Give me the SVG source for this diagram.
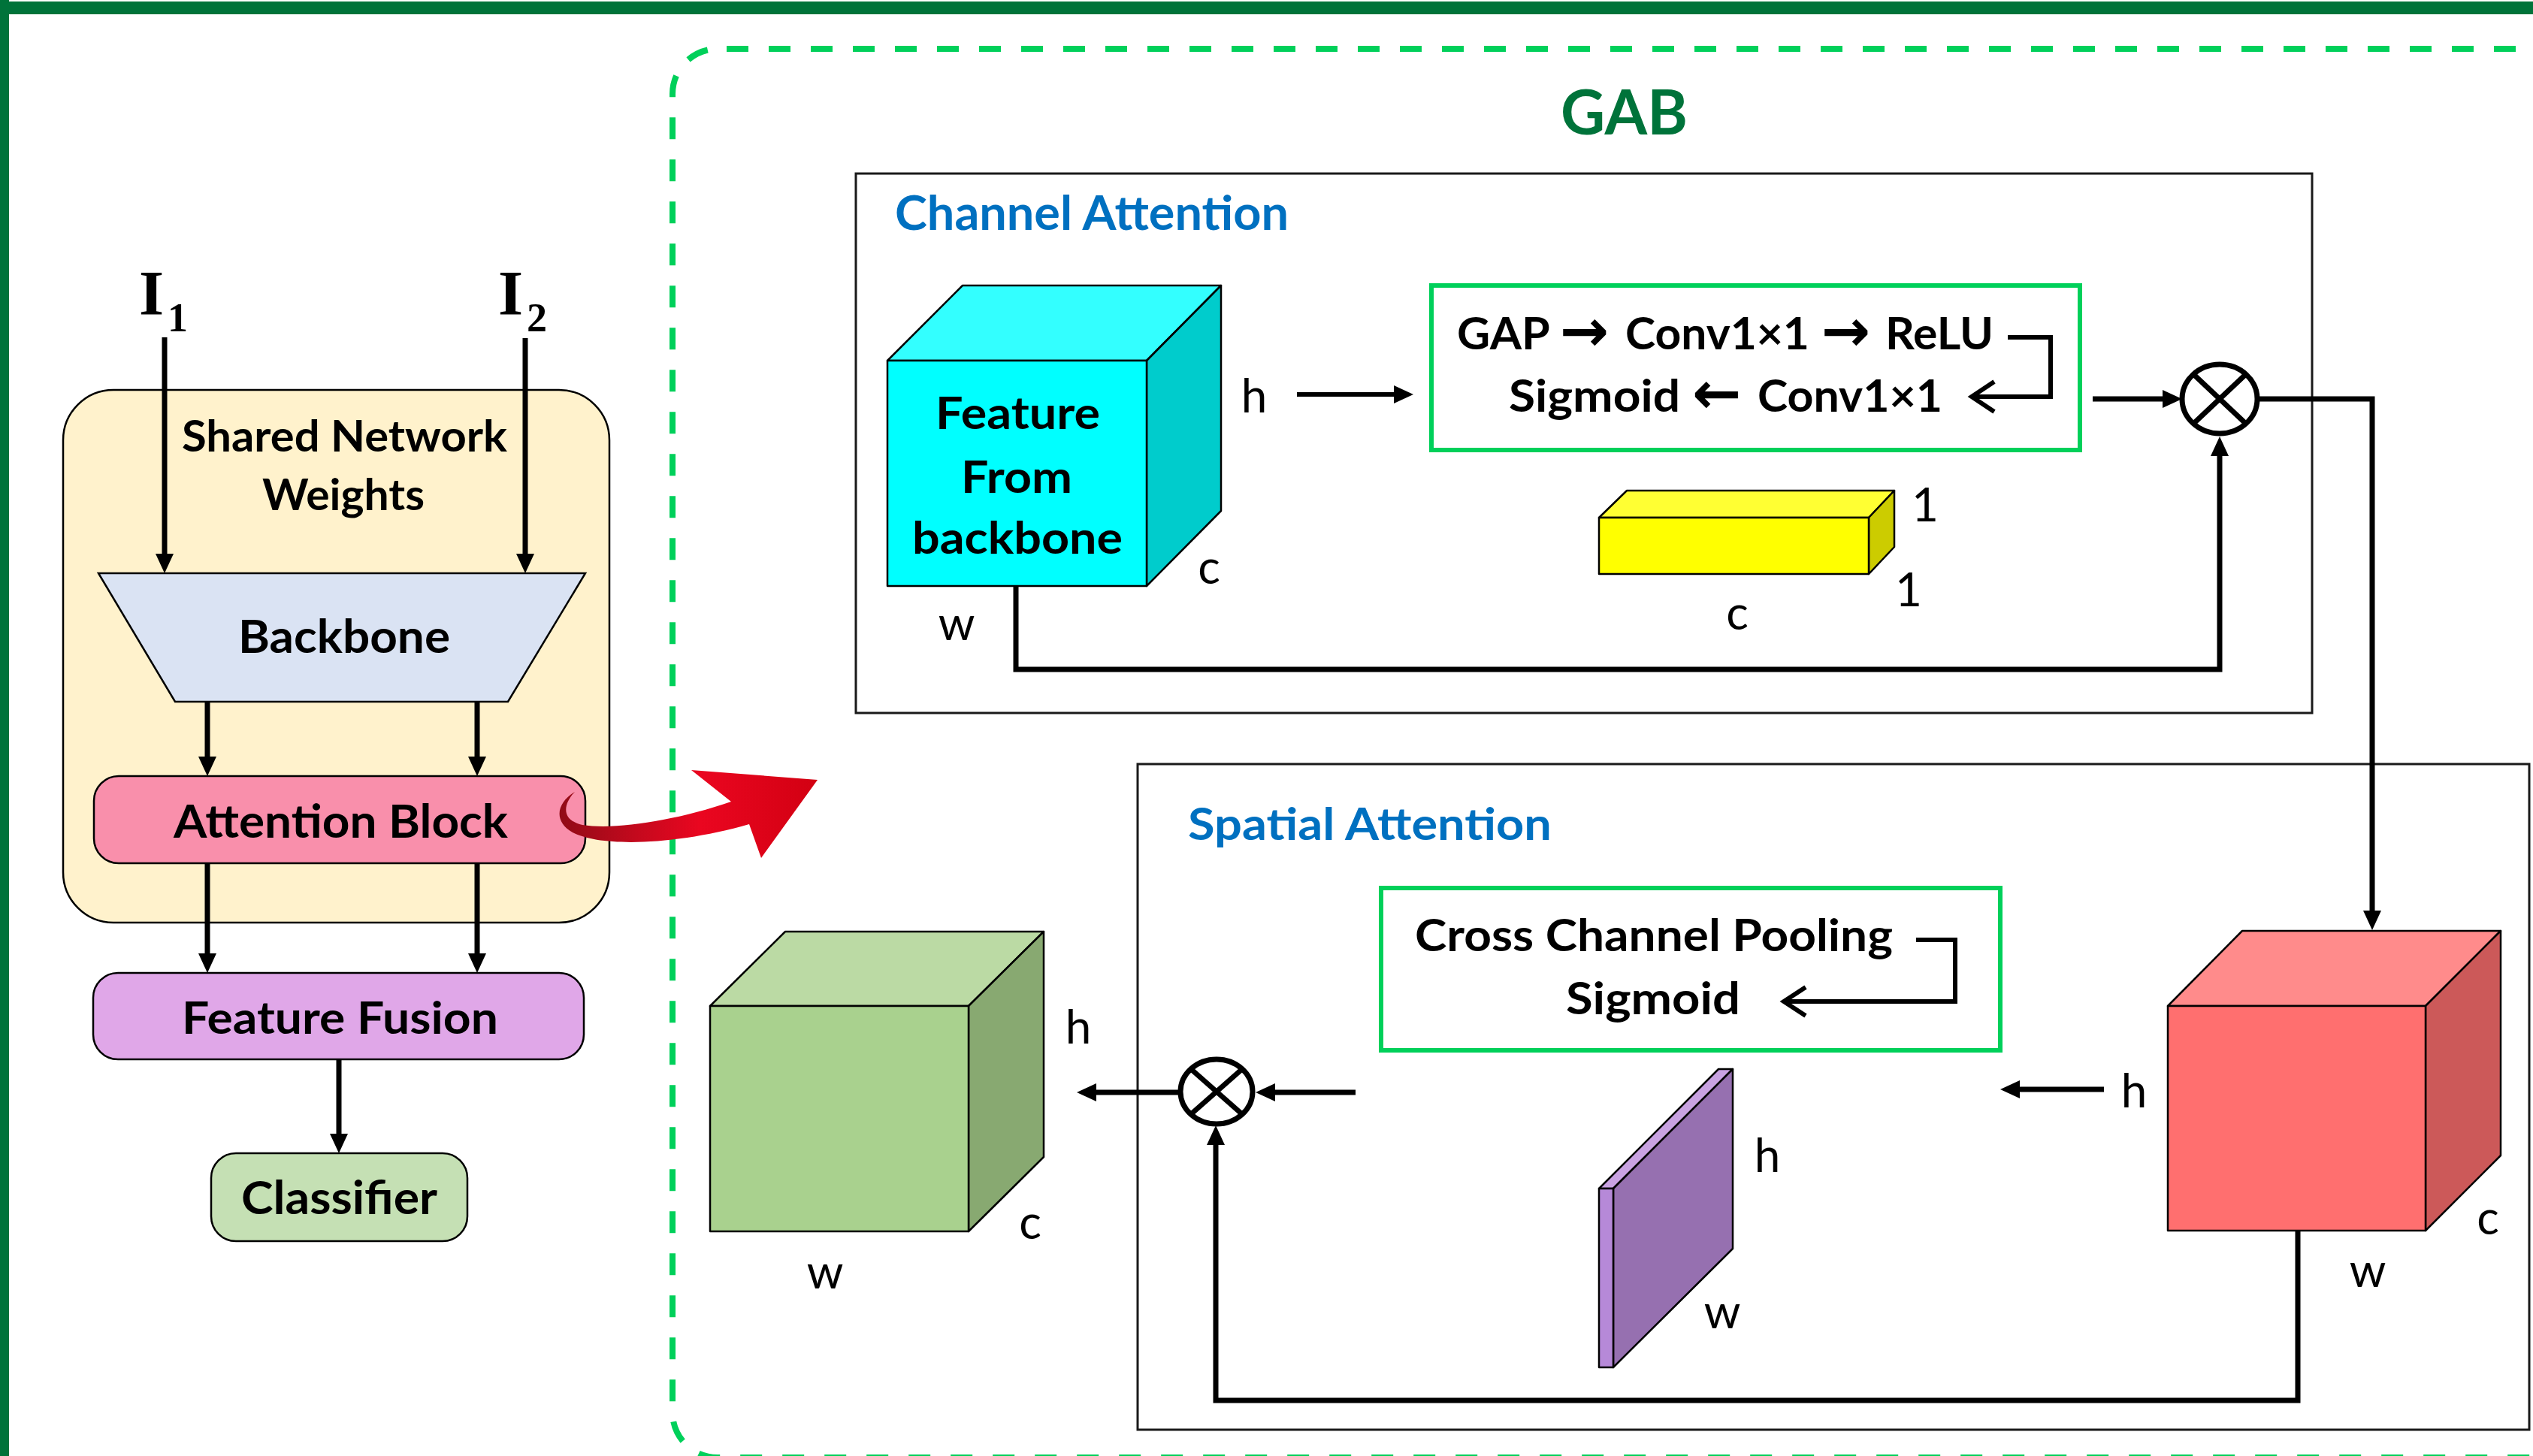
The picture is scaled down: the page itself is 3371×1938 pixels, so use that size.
<svg xmlns="http://www.w3.org/2000/svg" width="3371" height="1938" viewBox="0 0 3371 1938">
<defs>
<style>
.b{font-family:Lato,"Open Sans","Liberation Sans",sans-serif;font-weight:700;fill:#000}
.r{font-family:Lato,"Open Sans","Liberation Sans",sans-serif;font-weight:400;fill:#000;font-size:62px;text-anchor:middle}
.t{font-family:Lato,"Open Sans","Liberation Sans",sans-serif;font-weight:700;fill:#0070C0}
.ar{font-family:"DejaVu Sans",sans-serif;font-weight:700;fill:#000}
.ln{fill:none;stroke:#000;stroke-width:7}
.ln6{fill:none;stroke:#000;stroke-width:6}
.box{stroke:#000;stroke-width:2.5}
.fc{stroke:#000;stroke-width:2.5;stroke-linejoin:round}
.gbox{fill:#fff;stroke:#00D05A;stroke-width:6}
.panel{fill:#fff;stroke:#1a1a1a;stroke-width:3}
</style>
<marker id="ah" viewBox="0 0 26 24" refX="12" refY="12" markerWidth="26" markerHeight="24" markerUnits="userSpaceOnUse" orient="auto"><path d="M0,0 L26,12 L0,24 Z" fill="#000"/></marker>
<linearGradient id="redg" x1="740" y1="0" x2="1090" y2="0" gradientUnits="userSpaceOnUse">
<stop offset="0" stop-color="#8E0B16"/><stop offset="0.3" stop-color="#C3091D"/><stop offset="0.55" stop-color="#EA0620"/><stop offset="1" stop-color="#D20012"/>
</linearGradient>
</defs>
<rect width="3371" height="1938" fill="#fff"/>
<g id="frame">
<rect x="0" y="2" width="3371" height="17" fill="#00733A"/>
<rect x="0" y="0" width="12" height="1938" fill="#00733A"/>
</g>
<g id="gab-region">
<rect x="895" y="65" width="2600" height="1875" rx="60" fill="none" stroke="#00D05A" stroke-width="8" stroke-dasharray="29 27" stroke-dashoffset="-12"/>
<text class="b" x="2077" y="179" font-size="82" textLength="169" lengthAdjust="spacingAndGlyphs" style="fill:#00733A">GAB</text>
</g>

<g id="inputs">
<text x="185" y="419" font-family="'Liberation Serif',serif" font-weight="700" font-size="85">I<tspan font-size="54" dx="5" dy="22">1</tspan></text>
<text x="663" y="419" font-family="'Liberation Serif',serif" font-weight="700" font-size="85">I<tspan font-size="54" dx="5" dy="22">2</tspan></text>
</g>

<g id="shared">
<rect x="84" y="519" width="727" height="709" rx="67" fill="#FFF2CC" class="box"/>
<text class="b" x="242" y="601" font-size="58" textLength="433" lengthAdjust="spacingAndGlyphs">Shared Network</text>
<text class="b" x="349" y="679" font-size="58" textLength="216" lengthAdjust="spacingAndGlyphs">Weights</text>
</g>
<g id="backbone">
<polygon points="131,763 779,763 676,934 233,934" fill="#DAE3F3" class="box"/>
<text class="b" x="317" y="869" font-size="62" textLength="282" lengthAdjust="spacingAndGlyphs">Backbone</text>
</g>
<g id="attention-block">
<rect x="125" y="1033" width="654" height="116" rx="33" fill="#F98FAB" class="box"/>
<text class="b" x="231" y="1115" font-size="62" textLength="445" lengthAdjust="spacingAndGlyphs">Attention Block</text>
</g>
<g id="feature-fusion">
<rect x="124" y="1295" width="653" height="115" rx="33" fill="#E0A7E8" class="box"/>
<text class="b" x="242" y="1376" font-size="60" textLength="421" lengthAdjust="spacingAndGlyphs">Feature Fusion</text>
</g>
<g id="classifier">
<rect x="281" y="1535" width="341" height="117" rx="33" fill="#C5E0B4" class="box"/>
<text class="b" x="321" y="1616" font-size="61" textLength="261" lengthAdjust="spacingAndGlyphs">Classifier</text>
</g>

<g id="channel-attention">
<rect x="1139" y="231" width="1938" height="718" class="panel"/>
<text class="t" x="1191" y="306" font-size="64" textLength="524" lengthAdjust="spacingAndGlyphs">Channel Attention</text>
</g>
<g id="feature-cube">
<polygon points="1181,480 1281,380 1625,380 1526,480" fill="#33FFFF" class="fc"/>
<polygon points="1526,480 1625,380 1625,680 1526,780" fill="#00CCCC" class="fc"/>
<rect x="1181" y="480" width="345" height="300" fill="#00FFFF" class="fc"/>
<text class="b" x="1245" y="571" font-size="59" textLength="219" lengthAdjust="spacingAndGlyphs">Feature</text>
<text class="b" x="1279" y="656" font-size="59" textLength="148" lengthAdjust="spacingAndGlyphs">From</text>
<text class="b" x="1214" y="737" font-size="59" textLength="280" lengthAdjust="spacingAndGlyphs">backbone</text>
<text class="r" x="1669" y="549">h</text>
<text class="r" x="1609" y="777">c</text>
<text class="r" x="1273" y="852">w</text>
</g>
<g id="channel-ops">
<rect x="1905" y="380" width="863" height="219" class="gbox"/>
<text class="b" y="465" font-size="59"><tspan x="1939" textLength="122" lengthAdjust="spacingAndGlyphs">GAP</tspan> <tspan class="ar" x="2076" y="467" font-size="78">→</tspan> <tspan x="2163" y="465" textLength="245" lengthAdjust="spacingAndGlyphs">Conv1×1</tspan> <tspan class="ar" x="2424" y="467" font-size="78">→</tspan> <tspan x="2509" y="465" textLength="144" lengthAdjust="spacingAndGlyphs">ReLU</tspan></text>
<text class="b" y="548" font-size="59"><tspan x="2008" textLength="228" lengthAdjust="spacingAndGlyphs">Sigmoid</tspan> <tspan class="ar" x="2252" y="550" font-size="78">←</tspan> <tspan x="2339" y="548" textLength="246" lengthAdjust="spacingAndGlyphs">Conv1×1</tspan></text>
</g>
<g id="channel-weights">
<polygon points="2128,689 2165,653 2521,653 2487,689" fill="#FFFF33" class="fc"/>
<polygon points="2487,689 2521,653 2521,728 2487,764" fill="#CCCC00" class="fc"/>
<rect x="2128" y="689" width="359" height="75" fill="#FFFF00" class="fc"/>
<text class="r" x="2562" y="694">1</text>
<text class="r" x="2540" y="807">1</text>
<text class="r" x="2312" y="838">c</text>
</g>
<g id="multiply-1">
<ellipse cx="2954" cy="531" rx="50" ry="46" fill="#fff" stroke="#000" stroke-width="7"/>
<path d="M2919,498 L2989,564 M2989,498 L2919,564" stroke="#000" stroke-width="7"/>
</g>

<g id="spatial-attention">
<rect x="1514" y="1017" width="1852" height="886" class="panel"/>
<text class="t" x="1581" y="1118" font-size="60" textLength="484" lengthAdjust="spacingAndGlyphs">Spatial Attention</text>
</g>
<g id="spatial-ops">
<rect x="1838" y="1182" width="824" height="216" class="gbox"/>
<text class="b" x="1883" y="1266" font-size="59" textLength="636" lengthAdjust="spacingAndGlyphs">Cross Channel Pooling</text>
<text class="b" x="2084" y="1350" font-size="59" textLength="232" lengthAdjust="spacingAndGlyphs">Sigmoid</text>
</g>
<g id="red-cube">
<polygon points="2885,1339 2984,1239 3328,1239 3228,1339" fill="#FF8B8B" class="fc"/>
<polygon points="3228,1339 3328,1239 3328,1538 3228,1638" fill="#CC5959" class="fc"/>
<rect x="2885" y="1339" width="343" height="299" fill="#FF6F6F" class="fc"/>
<text class="r" x="2840" y="1474">h</text>
<text class="r" x="3311" y="1643">c</text>
<text class="r" x="3151" y="1713">w</text>
</g>
<g id="spatial-map">
<polygon points="2128,1582 2287,1423 2306,1423 2147,1582" fill="#C9A2E2" class="fc"/>
<polygon points="2147,1582 2306,1423 2306,1662 2147,1820" fill="#9670B0" class="fc"/>
<rect x="2128" y="1582" width="19" height="238" fill="#B689D8" class="fc"/>
<text class="r" x="2352" y="1560">h</text>
<text class="r" x="2292" y="1768">w</text>
</g>
<g id="multiply-2">
<ellipse cx="1619" cy="1453" rx="48" ry="43" fill="#fff" stroke="#000" stroke-width="7"/>
<path d="M1585,1423 L1653,1483 M1653,1423 L1585,1483" stroke="#000" stroke-width="7"/>
</g>
<g id="output-cube">
<polygon points="945,1339 1045,1240 1389,1240 1289,1339" fill="#BBDAA4" class="fc"/>
<polygon points="1289,1339 1389,1240 1389,1540 1289,1639" fill="#88A971" class="fc"/>
<rect x="945" y="1339" width="344" height="300" fill="#A9D18E" class="fc"/>
<text class="r" x="1435" y="1389">h</text>
<text class="r" x="1371" y="1649">c</text>
<text class="r" x="1098" y="1715">w</text>
</g>

<g id="connectors">
<path class="ln" d="M219,449 V749" marker-end="url(#ah)"/>
<path class="ln" d="M699,450 V749" marker-end="url(#ah)"/>
<path class="ln" d="M276,934 V1019" marker-end="url(#ah)"/>
<path class="ln" d="M635,934 V1019" marker-end="url(#ah)"/>
<path class="ln" d="M276,1149 V1281" marker-end="url(#ah)"/>
<path class="ln" d="M635,1149 V1281" marker-end="url(#ah)"/>
<path class="ln" d="M451,1410 V1521" marker-end="url(#ah)"/>
<path class="ln6" d="M1726,525 H1867" marker-end="url(#ah)"/>
<path class="ln" d="M2785,531 H2890" marker-end="url(#ah)"/>
<path class="ln" d="M1352,780 V891 H2954 V595" marker-end="url(#ah)"/>
<path class="ln" d="M3004,531 H3157 V1224" marker-end="url(#ah)"/>
<path class="ln6" d="M2672,449 H2729 V528 H2624"/>
<path class="ln6" d="M2654,508 L2624,528 L2654,548"/>
<path class="ln6" d="M2550,1251 H2602 V1333 H2374"/>
<path class="ln6" d="M2403,1314 L2374,1333 L2403,1352"/>
<path class="ln" d="M2800,1450 H2676" marker-end="url(#ah)"/>
<path class="ln" d="M1804,1454 H1685" marker-end="url(#ah)"/>
<path class="ln" d="M1571,1454 H1447" marker-end="url(#ah)"/>
<path class="ln" d="M3058,1638 V1864 H1618 V1512" marker-end="url(#ah)"/>
</g>
<g id="expand-arrow">
<path d="M765,1054 C742,1068 735,1092 762,1108 C800,1128 900,1125 997,1097 L1013,1142 L1088,1038 L920,1025 L973,1067 C900,1092 820,1105 775,1098 C748,1092 748,1072 765,1054 Z" fill="url(#redg)"/>
</g>
</svg>
